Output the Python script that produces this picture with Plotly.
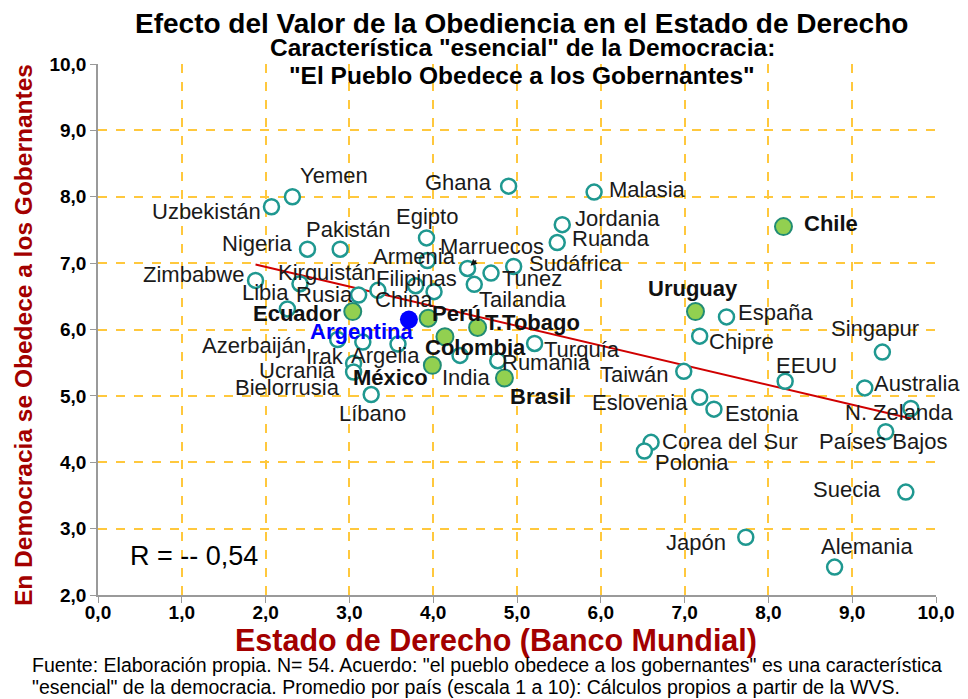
import plotly.graph_objects as go

# ---------------- data ----------------
open_names = ["Uzbekistán", "Yemen", "Nigeria", "Pakistán", "Zimbabwe", "Kirguistán", "Libia",
              "Rusia", "China", "Filipinas", "", "Azerbaiján", "Irak", "Argelia", "Ucrania",
              "Bielorrusia", "Líbano", "India", "Rumania", "Turquía", "Egipto", "Armenia",
              "Marruecos", "Tunez", "Tailandia", "Sudáfrica", "Ghana", "Malasia", "Jordania",
              "Ruanda", "España", "Chipre", "Taiwán", "Eslovenia", "Estonia", "Corea del Sur",
              "Polonia", "Japón", "EEUU", "Singapur", "Australia", "N. Zelanda", "Países Bajos",
              "Suecia", "Alemania"]
open_x = [2.07, 2.32, 2.50, 2.89, 1.88, 2.41, 2.26, 3.11, 3.34, 3.79, 4.01, 2.86, 3.16, 3.58, 3.05,
          3.05, 3.26, 4.32, 4.77, 5.21, 3.92, 3.93, 4.41, 4.69, 4.49, 4.96, 4.90, 5.92, 5.54,
          5.48, 7.50, 7.18, 6.99, 7.18, 7.35, 6.60, 6.52, 7.73, 8.20, 9.36, 9.15, 9.70, 9.40,
          9.64, 8.79]
open_y = [7.85, 8.00, 7.21, 7.21, 6.74, 6.69, 6.31, 6.52, 6.59, 6.66, 6.57, 5.85, 5.81, 5.78, 5.49,
          5.36, 5.02, 5.61, 5.53, 5.79, 7.38, 7.04, 6.92, 6.85, 6.68, 6.95, 8.16, 8.07, 7.58,
          7.31, 6.19, 5.90, 5.37, 4.98, 4.80, 4.30, 4.17, 2.87, 5.22, 5.66, 5.12, 4.81, 4.46,
          3.55, 2.42]

latam_names = ["Ecuador", "Perú", "T.Tobago", "Colombia", "México", "Brasil", "Uruguay", "Chile"]
latam_x = [3.04, 3.94, 4.53, 4.14, 3.99, 4.85, 7.13, 8.18]
latam_y = [6.27, 6.17, 6.03, 5.89, 5.46, 5.27, 6.27, 7.55]

arg_name = ["Argentina"]
arg_x = [3.71]
arg_y = [6.15]

trend_x = [1.88, 9.70]
trend_y = [6.98, 4.66]

tick_vals = [0, 1, 2, 3, 4, 5, 6, 7, 8, 9, 10]
x_tick_text = ["0,0", "1,0", "2,0", "3,0", "4,0", "5,0", "6,0", "7,0", "8,0", "9,0", "10,0"]
y_tick_vals = [2, 3, 4, 5, 6, 7, 8, 9, 10]
y_tick_text = ["2,0", "3,0", "4,0", "5,0", "6,0", "7,0", "8,0", "9,0", "10,0"]

# ---------------- label placement (pixel offsets: anchor, dx, dy) ----------------
label_style = {
    "Uzbekistán": ("right", -8, 5), "Yemen": ("left", 6, -21), "Nigeria": ("right", -14, -6),
    "Pakistán": ("center", 8, -20), "Zimbabwe": ("right", -10, -6), "Kirguistán": ("center", 27, -11),
    "Libia": ("center", -22, -16), "Rusia": ("right", -4, 0), "China": ("left", -5, 9),
    "Filipinas": ("center", 1, -7), "Azerbaiján": ("right", -30, 6), "Irak": ("center", -38, 14),
    "Argelia": ("center", -13, 11), "Ucrania": ("right", -16, 7), "Bielorrusia": ("right", -12, 16),
    "Líbano": ("center", 1, 19), "India": ("center", 6, 22), "Rumania": ("left", 2, 2),
    "Turquía": ("left", 7, 6), "Egipto": ("center", 0, -21), "Armenia": ("center", -13, -4),
    "Tunez": ("left", 9, 5), "Tailandia": ("left", 3, 15), "Sudáfrica": ("left", 13, -3),
    "Ghana": ("right", -15, -4), "Malasia": ("left", 13, -3), "Jordania": ("left", 11, -6),
    "Ruanda": ("left", 13, -4), "España": ("left", 9, -4), "Chipre": ("left", 7, 5),
    "Taiwán": ("right", -14, 3), "Eslovenia": ("right", -10, 5), "Estonia": ("left", 9, 4),
    "Corea del Sur": ("left", 9, -1), "Polonia": ("left", 9, 12), "Japón": ("right", -18, 5),
    "EEUU": ("center", 21, -16), "Singapur": ("center", -7, -24), "Australia": ("left", 7, -4),
    "N. Zelanda": ("center", -12, 4), "Países Bajos": ("center", -3, 10), "Suecia": ("right", -23, -3),
    "Alemania": ("center", 32, -21),
    "Ecuador": ("right", -10, 2), "Perú": ("left", 2, -5), "T.Tobago": ("left", 5, -5),
    "Colombia": ("center", 31, 11), "México": ("right", -2, 12), "Brasil": ("left", 4, 19),
    "Uruguay": ("center", -2, -23), "Chile": ("left", 19, -3),
    "Argentina": ("center", -47, 12),
}

FONT = "Liberation Sans, Arial, sans-serif"
TEAL = "#1f9890"
GOLD = "#FFC83D"
DARKRED = "#A30000"
LABEL_SIZE = 22

fig = go.Figure()

fig.add_trace(go.Scatter(x=trend_x, y=trend_y, mode="lines",
                         line=dict(color="#D00000", width=2), hoverinfo="skip", showlegend=False))

fig.add_trace(go.Scatter(x=open_x, y=open_y, mode="markers", text=open_names,
                         marker=dict(size=15, color="white", line=dict(color=TEAL, width=2.5)),
                         showlegend=False))
fig.add_trace(go.Scatter(x=latam_x, y=latam_y, mode="markers", text=latam_names,
                         marker=dict(size=17, color="#92D050", line=dict(color="#218c74", width=2)),
                         showlegend=False))
fig.add_trace(go.Scatter(x=arg_x, y=arg_y, mode="markers", text=arg_name,
                         marker=dict(size=18, color="#0000FF", line=dict(width=0)),
                         showlegend=False))

annotations = []


def add_labels(names, xs, ys, bold=False, color="#1a1a1a"):
    for n, x, y in zip(names, xs, ys):
        if not n or n not in label_style:
            continue
        anc, dx, dy = label_style[n]
        annotations.append(dict(
            x=x, y=y, xref="x", yref="y", text=("<b>%s</b>" % n) if bold else n,
            showarrow=False, xanchor=anc, yanchor="middle", xshift=dx, yshift=-dy,
            font=dict(family=FONT, size=LABEL_SIZE, color=color)))


add_labels(open_names, open_x, open_y)
add_labels(latam_names, latam_x, latam_y, bold=True, color="#111111")
add_labels(arg_name, arg_x, arg_y, bold=True, color="#0000FF")

# Marruecos with arrow
mi = open_names.index("Marruecos")
annotations.append(dict(x=open_x[mi], y=open_y[mi], xref="x", yref="y", text="Marruecos",
                        showarrow=True, arrowhead=2, arrowsize=1, arrowwidth=1.3, arrowcolor="#111",
                        ax=24, ay=-22, standoff=4,
                        font=dict(family=FONT, size=LABEL_SIZE, color="#1a1a1a")))

# R value
annotations.append(dict(x=0.36, y=2.59, xref="x", yref="y", text="R = -- 0,54", showarrow=False,
                        xanchor="left", yanchor="middle", font=dict(family=FONT, size=27, color="black")))


# page pixel -> paper (plot area spans page x 98..936, y 64..595)
def px_to_paper(px, py):
    return (px - 98) / 838.0, (595 - py) / 531.0


def paper_text(px, py, text, size, color="black", anchor="center", angle=0):
    tx, ty = px_to_paper(px, py)
    annotations.append(dict(x=tx, y=ty, xref="paper", yref="paper", showarrow=False, text=text,
                            textangle=angle, xanchor=anchor, yanchor="middle",
                            font=dict(family=FONT, size=size, color=color)))


paper_text(521, 23, "<b>Efecto del Valor de la Obediencia en el Estado de Derecho</b>", 28)
paper_text(522, 48, "<b>Característica \"esencial\" de la Democracia:</b>", 24.5)
paper_text(522, 75, "<b>\"El Pueblo Obedece a los Gobernantes\"</b>", 24.5)
paper_text(496, 640, "<b>Estado de Derecho (Banco Mundial)</b>", 30.5, DARKRED)
paper_text(23, 335, "<b>En Democracia se Obedece a los Gobernantes</b>", 24.5, DARKRED, angle=-90)
paper_text(30, 665, "Fuente: Elaboración propia. N= 54. Acuerdo: \"el pueblo obedece a los gobernantes\" "
                    "es una característica", 19.5, anchor="left")
paper_text(30, 687, "\"esencial\" de la democracia. Promedio por país (escala 1 a 10): Cálculos propios "
                    "a partir de la WVS.", 19.5, anchor="left")

# the page body has an 8px margin: figure 960x691 placed at (8,8) fills the 968x699 window
fig.update_layout(
    width=960, height=691,
    margin=dict(l=90, r=32, t=56, b=104, autoexpand=False),
    paper_bgcolor="white", plot_bgcolor="white",
    annotations=annotations,
    showlegend=False,
    font=dict(family=FONT),
)
axis_common = dict(showgrid=True, gridcolor=GOLD, griddash="dash", gridwidth=1.5,
                   showline=True, linecolor="#9a9a9a", linewidth=1.5,
                   ticks="outside", ticklen=6, tickcolor="#9a9a9a",
                   tickfont=dict(family=FONT, size=19, color="black", weight="bold"),
                   zeroline=False, fixedrange=True)
fig.update_xaxes(range=[0, 10], tickvals=tick_vals, ticktext=x_tick_text, **axis_common)
fig.update_yaxes(range=[2, 10], tickvals=y_tick_vals, ticktext=y_tick_text, **axis_common)
try:
    fig.update_xaxes(ticklabelstandoff=-7)
except Exception:
    pass

fig.write_html("out.html")
